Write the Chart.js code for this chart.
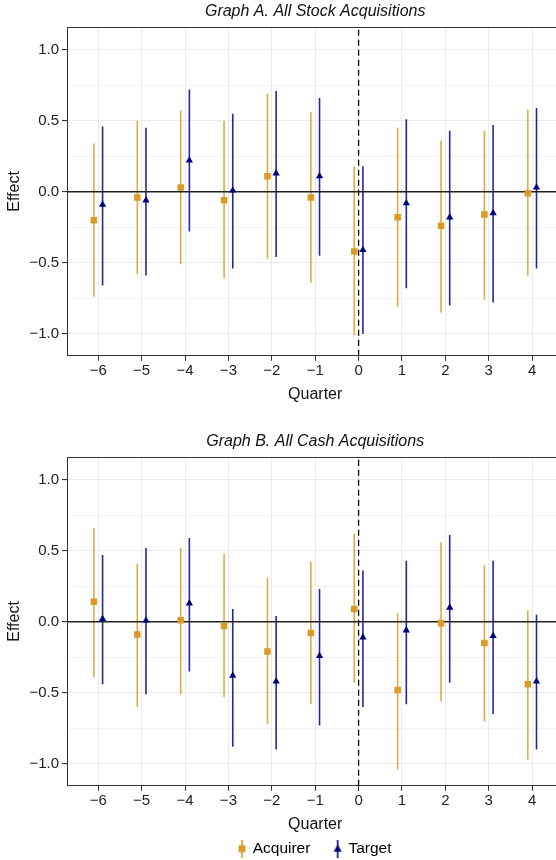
<!DOCTYPE html>
<html>
<head>
<meta charset="utf-8">
<script src="https://cdn.jsdelivr.net/npm/chart.js@4.4.1/dist/chart.umd.min.js"></script>
<style>
  html, body { margin: 0; padding: 0; background: #fff; width: 556px; height: 860px; overflow: hidden; }
  canvas { position: absolute; left: 0; }
  #chartA { top: 0; }
  #chartB { top: 430px; }
</style>
</head>
<body>
<canvas id="chartA" width="568" height="404"></canvas>
<canvas id="chartB" width="568" height="430"></canvas>
<script>
  const quarters = [-6, -5, -4, -3, -2, -1, 0, 1, 2, 3, 4];
  const yTicks = [-1, -0.75, -0.5, -0.25, 0, 0.25, 0.5, 0.75, 1];
  const seriesNames = ["Acquirer", "Target"];

  // Graph A. All Stock Acquisitions
  const acqEstA = [-0.20, -0.04, 0.03, -0.06, 0.11, -0.04, -0.42, -0.18, -0.24, -0.16, -0.01];
  const acqLoA  = [-0.74, -0.58, -0.51, -0.61, -0.47, -0.64, -1.01, -0.81, -0.85, -0.76, -0.59];
  const acqHiA  = [0.34, 0.50, 0.57, 0.50, 0.69, 0.56, 0.18, 0.45, 0.36, 0.43, 0.58];
  const tgtEstA = [-0.09, -0.06, 0.22, 0.01, 0.13, 0.11, -0.41, -0.08, -0.18, -0.15, 0.03];
  const tgtLoA  = [-0.66, -0.59, -0.28, -0.54, -0.46, -0.45, -1.00, -0.68, -0.80, -0.78, -0.54];
  const tgtHiA  = [0.46, 0.45, 0.72, 0.55, 0.71, 0.66, 0.18, 0.51, 0.43, 0.47, 0.59];

  // Graph B. All Cash Acquisitions
  const acqEstB = [0.14, -0.09, 0.01, -0.03, -0.21, -0.08, 0.09, -0.48, -0.01, -0.15, -0.44];
  const acqLoB  = [-0.39, -0.60, -0.51, -0.53, -0.72, -0.58, -0.43, -1.04, -0.56, -0.70, -0.97];
  const acqHiB  = [0.66, 0.41, 0.52, 0.48, 0.31, 0.42, 0.62, 0.06, 0.56, 0.40, 0.08];
  const tgtEstB = [0.02, 0.01, 0.13, -0.38, -0.42, -0.24, -0.11, -0.06, 0.10, -0.10, -0.42];
  const tgtLoB  = [-0.44, -0.51, -0.35, -0.88, -0.90, -0.73, -0.60, -0.58, -0.43, -0.65, -0.90];
  const tgtHiB  = [0.47, 0.52, 0.59, 0.09, 0.04, 0.23, 0.36, 0.43, 0.61, 0.43, 0.05];

  const X_MIN = -6.72, X_MAX = 4.72, Y_MIN = -1.155, Y_MAX = 1.16;
  const DODGE = 0.1;
  const FONT = "'Liberation Sans', Arial, Helvetica, sans-serif";
  const ORANGE = '#DA9A26', ORANGE_BAR = 'rgba(218,154,38,0.85)';
  const NAVY = '#00007F', NAVY_BAR = 'rgba(0,0,139,0.85)';

  const minus = s => s.replace('-', '\u2212');
  const isMajor = v => Math.abs(v * 2 - Math.round(v * 2)) < 1e-9;

  function barsData(lo, hi, shift) {
    const pts = [];
    quarters.forEach((q, i) => {
      pts.push({ x: q + shift, y: lo[i] }, { x: q + shift, y: hi[i] }, { x: q + shift, y: null });
    });
    return pts;
  }
  const pointsData = (est, shift) => quarters.map((q, i) => ({ x: q + shift, y: est[i] }));

  // legend icons: marker with its error bar through it
  function legendIcon(kind, color) {
    const c = document.createElement('canvas');
    c.width = 10; c.height = 18;
    const g = c.getContext('2d');
    g.strokeStyle = color; g.lineWidth = 1.6;
    g.beginPath(); g.moveTo(5, 0); g.lineTo(5, 18); g.stroke();
    g.fillStyle = color;
    if (kind === 'rect') {
      g.fillRect(1.5, 5.5, 7, 7);
    } else {
      g.beginPath(); g.moveTo(5, 4.5); g.lineTo(9, 12); g.lineTo(1, 12); g.closePath(); g.fill();
    }
    return c;
  }
  const icons = [legendIcon('rect', ORANGE), legendIcon('tri', NAVY)];

  const panelBorder = {
    id: 'panelBorder',
    beforeDatasetsDraw(chart) {
      const { ctx, chartArea: a } = chart;
      ctx.save();
      ctx.strokeStyle = '#333';
      ctx.lineWidth = 1;
      ctx.beginPath();
      ctx.moveTo(a.left, a.top + 0.5); ctx.lineTo(a.right, a.top + 0.5);
      ctx.moveTo(a.right - 0.5, a.top); ctx.lineTo(a.right - 0.5, a.bottom);
      ctx.stroke();
      ctx.restore();
    }
  };

  function makeChart(id, title, acqEst, acqLo, acqHi, tgtEst, tgtLo, tgtHi, showLegend) {
    new Chart(document.getElementById(id), {
      type: 'scatter',
      data: {
        datasets: [
          { label: seriesNames[0], data: pointsData(acqEst, -DODGE), pointStyle: 'rect', pointRadius: 4.6,
            backgroundColor: ORANGE, borderWidth: 0, order: 1 },
          { label: seriesNames[1], data: pointsData(tgtEst, DODGE), pointStyle: 'triangle', pointRadius: 4.2,
            backgroundColor: NAVY, borderWidth: 0, order: 0 },
          { label: 'acqBars', data: barsData(acqLo, acqHi, -DODGE), showLine: true, pointRadius: 0,
            borderColor: ORANGE_BAR, borderWidth: 1.6, order: 4 },
          { label: 'tgtBars', data: barsData(tgtLo, tgtHi, DODGE), showLine: true, pointRadius: 0,
            borderColor: NAVY_BAR, borderWidth: 1.6, order: 3 },
          { label: 'zero', data: [{ x: X_MIN, y: 0 }, { x: X_MAX, y: 0 }], showLine: true, pointRadius: 0,
            borderColor: '#222', borderWidth: 1.3, order: 2 },
          { label: 'event', data: [{ x: 0, y: Y_MIN }, { x: 0, y: Y_MAX }], showLine: true, pointRadius: 0,
            borderColor: '#000', borderWidth: 1.3, borderDash: [6, 4], order: 5 }
        ]
      },
      options: {
        responsive: false,
        animation: false,
        events: [],
        layout: { padding: 0 },
        plugins: {
          title: {
            display: true, text: title, fullSize: false, color: '#111',
            font: { family: FONT, size: 16, style: 'italic', weight: 'normal' },
            padding: { top: 2.4, bottom: 5.4 }
          },
          legend: {
            display: showLegend,
            position: 'bottom',
            fullSize: false,
            maxHeight: 26,
            labels: {
              usePointStyle: true,
              pointStyleWidth: 6,
              padding: 7,
              color: '#111',
              font: { family: FONT, size: 15.5 },
              generateLabels: () => seriesNames.map((n, i) => ({
                text: i === 0 ? n + '    ' : n, pointStyle: icons[i], fillStyle: 'transparent',
                strokeStyle: 'transparent', lineWidth: 0, hidden: false, datasetIndex: i
              }))
            }
          },
          tooltip: { enabled: false }
        },
        scales: {
          x: {
            type: 'linear', min: X_MIN, max: X_MAX,
            afterBuildTicks: s => { s.ticks = quarters.map(v => ({ value: v })); },
            ticks: { callback: v => minus(String(v)), color: '#222', font: { family: FONT, size: 15 },
                     padding: 1, autoSkip: false, maxRotation: 0 },
            grid: { color: '#EBEBEB', lineWidth: 1, tickColor: '#333', tickLength: 5 },
            border: { color: '#333', width: 1 },
            title: { display: true, text: 'Quarter', color: '#111', font: { family: FONT, size: 16 },
                     padding: { top: 4, bottom: 0 } }
          },
          y: {
            min: Y_MIN, max: Y_MAX,
            afterBuildTicks: s => { s.ticks = yTicks.map(v => ({ value: v })); },
            afterFit: s => { s.width = 67; },
            ticks: { callback: v => isMajor(v) ? minus(v.toFixed(1)) : '', color: '#222',
                     font: { family: FONT, size: 15 }, padding: 3 },
            grid: {
              color: '#EBEBEB',
              lineWidth: ctx => isMajor(ctx.tick.value) ? 1.1 : 0.6,
              tickColor: ctx => isMajor(ctx.tick.value) ? '#333' : 'rgba(0,0,0,0)',
              tickLength: 5
            },
            border: { color: '#333', width: 1 },
            title: { display: true, text: 'Effect', color: '#111', font: { family: FONT, size: 16 },
                     padding: { top: 5, bottom: 0 } }
          }
        }
      },
      plugins: [panelBorder]
    });
  }

  makeChart('chartA', 'Graph A. All Stock Acquisitions', acqEstA, acqLoA, acqHiA, tgtEstA, tgtLoA, tgtHiA, false);
  makeChart('chartB', 'Graph B. All Cash Acquisitions', acqEstB, acqLoB, acqHiB, tgtEstB, tgtLoB, tgtHiB, true);
</script>
</body>
</html>
